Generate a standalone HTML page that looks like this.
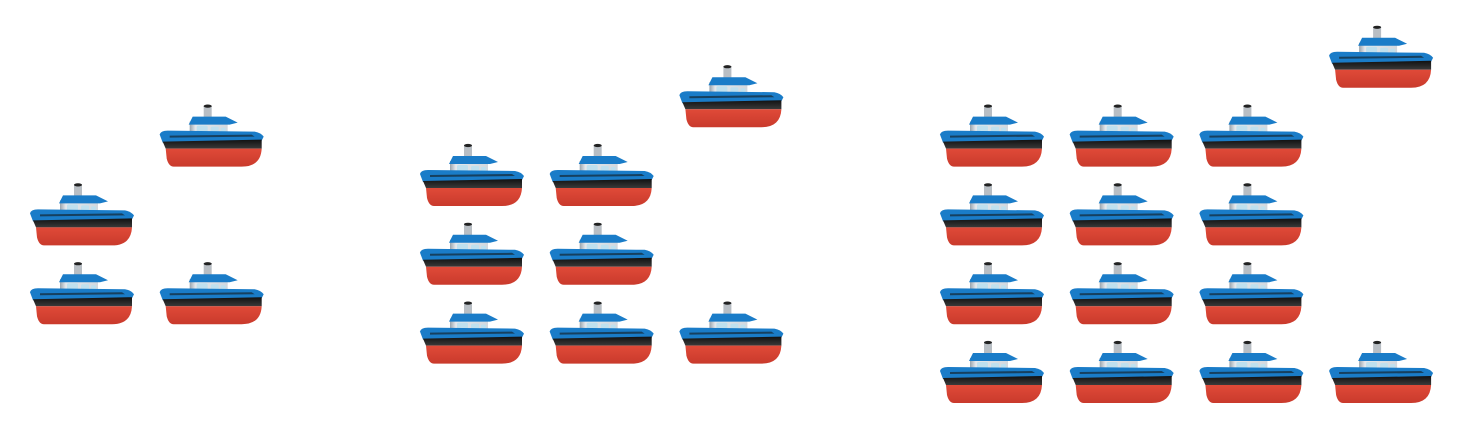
<!DOCTYPE html>
<html><head><meta charset="utf-8"><style>
html,body{margin:0;padding:0;background:#fff;width:1460px;height:438px;overflow:hidden;font-family:"Liberation Sans",sans-serif}
</style></head><body>
<svg id="chart" width="1460" height="438" viewBox="0 0 1460 438" xmlns="http://www.w3.org/2000/svg">
<defs>
<linearGradient id="blk" x1="0" y1="0" x2="0" y2="1"><stop offset="0" stop-color="#111"/><stop offset="1" stop-color="#3a3a3a"/></linearGradient>
<linearGradient id="red" x1="0" y1="0" x2="0" y2="1"><stop offset="0" stop-color="#e04a38"/><stop offset="1" stop-color="#c93a2c"/></linearGradient>
<linearGradient id="cab" x1="0" y1="0" x2="1" y2="0"><stop offset="0" stop-color="#9aa4ad"/><stop offset="0.15" stop-color="#e4e8ec"/><stop offset="1" stop-color="#d2d8de"/></linearGradient>
<g id="ship">
  <rect x="44" y="1" width="8" height="13" fill="#b8bec4"/>
  <ellipse cx="48" cy="1.5" rx="4" ry="1.6" fill="#222"/>
  <rect x="30" y="17" width="38" height="14" fill="url(#cab)"/>
  <path d="M29,20 L33,12 L66,12 L78,18 L70,20 Z" fill="#1a7cc8"/>
  <rect x="37" y="21" width="11" height="7" rx="1.5" fill="#bfe0ee"/>
  <rect x="51" y="22" width="8" height="6" rx="1.5" fill="#bfe0ee"/>
  <rect x="61" y="23" width="5" height="5" rx="1" fill="#bfe0ee"/>
  <path d="M0,30 Q1,26 8,26 L95,27 Q101,28 104,32 L102,36 L3,38 Z" fill="#1a7cc8"/>
  <path d="M10,31 L92,30 L95,32 L10,33 Z" fill="#16405f"/>
  <path d="M3,37 L102,35 L102,44 L6,44 Z" fill="url(#blk)"/>
  <path d="M6,44 L102,44 Q101,62 82,62 L14,62 Q9,62 7,54 Z" fill="url(#red)"/>
</g>
</defs>
<g id="marks"></g>
</svg>
<script>
// ships stacked per column, for each group
const groupNames = ["group-a", "group-b", "group-c"];
const columnCounts = [[2, 1], [3, 3, 1], [4, 4, 4, 1]];
const groupX = [30, 420, 940];
const colStep = 129.7, rowStep = 78.8, baseY = 420, shipH = 62;
const marks = document.getElementById('marks');
columnCounts.forEach((cols, gi) => {
  const g = document.createElementNS('http://www.w3.org/2000/svg', 'g');
  
  
  marks.appendChild(g);
  const maxRows = Math.max(...cols);
  cols.forEach((n, ci) => {
    const place = (ri, name) => {
      const u = document.createElementNS('http://www.w3.org/2000/svg', 'use');
      u.setAttribute('href', '#ship');
      u.setAttribute('x', groupX[gi] + ci * colStep);
      u.setAttribute('y', baseY - (ri + 1) * rowStep - shipH + rowStep - 17 - (gi === 0 ? 78.8 : gi === 1 ? 39.4 : 0));
      
      
      g.appendChild(u);
    };
    for (let r = 0; r < n; r++) place(r, 'ship-icon');
    if (ci === cols.length - 1) place(maxRows, 'ship-marker');
  });
});
</script>
</body></html>
